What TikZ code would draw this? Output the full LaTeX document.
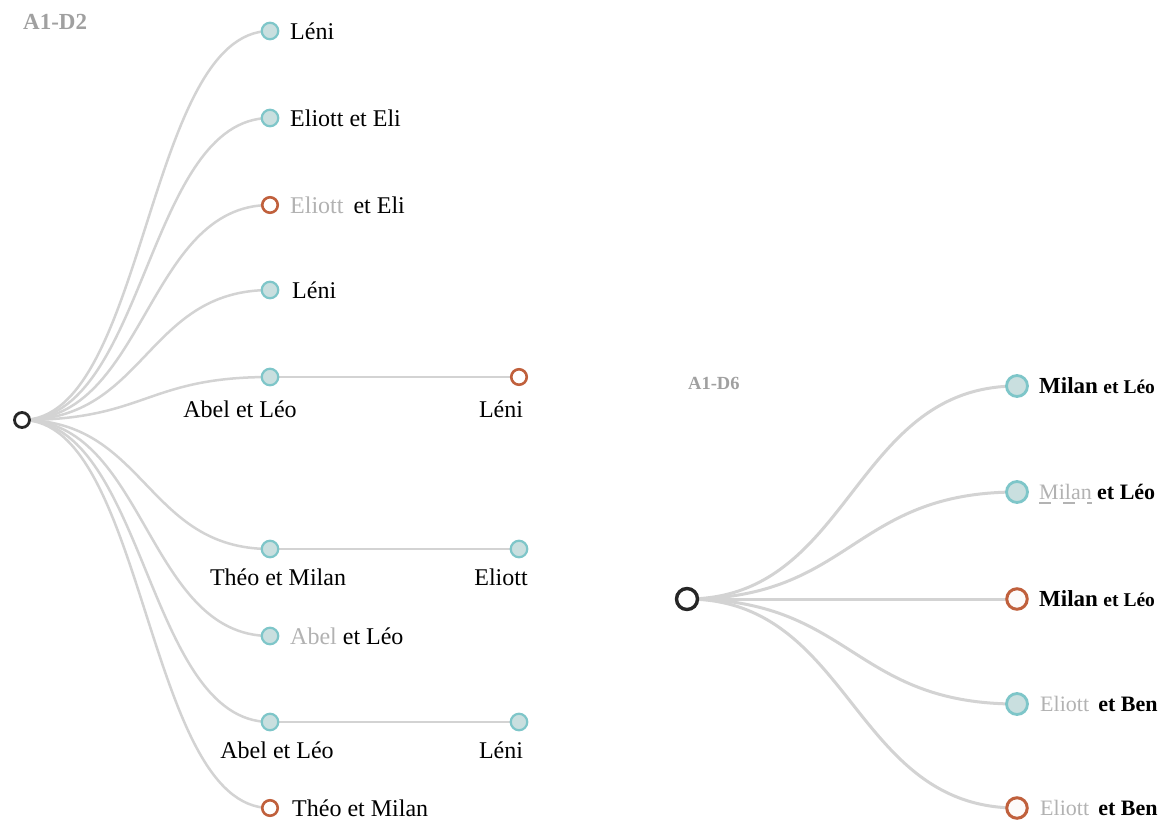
\documentclass[tikz,border=0pt]{standalone}
\usepackage{fontspec}
\setmainfont{Liberation Serif}
\usetikzlibrary{calc,backgrounds}
\definecolor{tealS}{HTML}{7EC6C9}
\definecolor{tealF}{HTML}{C9DFDF}
\definecolor{orangeS}{HTML}{C0603C}
\definecolor{edgeC}{HTML}{D3D3D3}
\definecolor{fadeT}{HTML}{B2B2B2}
\definecolor{titleC}{HTML}{A0A0A0}
\newcommand\treeedge[3][]{\draw[edge,#1] let \p1=(#2.center), \p2=(#3.center) in (\p1) .. controls ({0.5*\x1+0.5*\x2},\y1) and ({0.5*\x1+0.5*\x2},\y2) .. (\p2);}
\begin{document}
\begin{tikzpicture}[x=1pt,y=-1pt,
  leafL/.style={circle, draw=tealS, fill=tealF, line width=2.2pt, minimum size=16.5pt, inner sep=0pt},
  ringL/.style={circle, draw=orangeS, fill=white, line width=2.6pt, minimum size=15.5pt, inner sep=0pt},
  rootL/.style={circle, draw=black!85, fill=white, line width=2.8pt, minimum size=15pt, inner sep=0pt},
  leafR/.style={circle, draw=tealS, fill=tealF, line width=2.8pt, minimum size=21pt, inner sep=0pt},
  ringR/.style={circle, draw=orangeS, fill=white!97!orangeS, line width=3pt, minimum size=20.5pt, inner sep=0pt},
  rootR/.style={circle, draw=black!85, fill=white, line width=3.4pt, minimum size=21pt, inner sep=0pt},
  edge/.style={draw=edgeC, line width=2.5pt},
  edgeR/.style={draw=edgeC, line width=3pt},
  lblL/.style={inner sep=0pt, font=\fontsize{24}{28}\selectfont},
  lblR/.style={inner sep=0pt, font=\fontsize{22}{26}\selectfont},
  title/.style={inner sep=0pt, text=titleC, font=\bfseries\fontsize{23}{26}\selectfont},
  titleS/.style={inner sep=0pt, text=titleC, font=\bfseries\fontsize{18.5}{21}\selectfont}
]
% ---------- left tree ----------
\node[rootL] (r) at (22,420) {};
\node[leafL] (c1) at (270,31) {};
\node[leafL] (c2) at (270,118) {};
\node[ringL] (c3) at (270,205) {};
\node[leafL] (c4) at (270,290) {};
\node[leafL] (c5) at (270,377) {};
\node[leafL] (c6) at (270,549) {};
\node[leafL] (c7) at (270,636) {};
\node[leafL] (c8) at (270,722) {};
\node[ringL] (c9) at (270,808) {};
\node[ringL] (g5) at (519,377) {};
\node[leafL] (g6) at (519,549) {};
\node[leafL] (g8) at (519,722) {};

\node[title, anchor=base west] (tA) at (23,29) {A1-D2};

\node[lblL, anchor=base west] (t1) at ([xshift=20pt,yshift=-8pt]c1.center) {Léni};
\node[lblL, anchor=base west] (t2) at ([xshift=20pt,yshift=-8pt]c2.center) {Eliott et Eli};
\node[lblL, anchor=base west] (t3) at ([xshift=20pt,yshift=-8pt]c3.center) {\textcolor{fadeT}{Eliott} \,et Eli};
\node[lblL, anchor=base west] (t4) at ([xshift=22pt,yshift=-8pt]c4.center) {Léni};
\node[lblL, anchor=base] (t5) at ([xshift=-30pt,yshift=-40pt]c5.center) {Abel et Léo};
\node[lblL, anchor=base] (u5) at ([xshift=-18pt,yshift=-40pt]g5.center) {Léni};
\node[lblL, anchor=base] (t6) at ([xshift=8pt,yshift=-36pt]c6.center) {Théo et Milan};
\node[lblL, anchor=base] (u6) at ([xshift=-18pt,yshift=-36pt]g6.center) {Eliott};
\node[lblL, anchor=base west] (t7) at ([xshift=20pt,yshift=-8pt]c7.center) {\textcolor{fadeT}{Abel} et Léo};
\node[lblL, anchor=base] (t8) at ([xshift=7pt,yshift=-36pt]c8.center) {Abel et Léo};
\node[lblL, anchor=base] (u8) at ([xshift=-18pt,yshift=-36pt]g8.center) {Léni};
\node[lblL, anchor=base west] (t9) at ([xshift=22pt,yshift=-8pt]c9.center) {Théo et Milan};

% ---------- right tree ----------
\node[rootR] (R) at (687,599) {};
\node[leafR] (d1) at (1017,386) {};
\node[leafR] (d2) at (1017,492) {};
\node[ringR] (d3) at (1017,599) {};
\node[leafR] (d4) at (1017,704) {};
\node[ringR] (d5) at (1017,808) {};

\node[titleS, anchor=base west] (tB) at (688,389) {A1-D6};

\node[lblR, anchor=base west] (s1) at ([xshift=22pt,yshift=-7pt]d1.center) {{\bfseries\fontsize{23}{26}\selectfont Milan} {\bfseries\fontsize{19.5}{22}\selectfont et Léo}};
\node[lblR, anchor=base west, text=fadeT] (s2a) at ([xshift=22pt,yshift=-7pt]d2.center) {Milan};
\node[lblR, anchor=base west] (s2b) at ([xshift=5pt]s2a.base east) {\textbf{et Léo}};
\node[lblR, anchor=base west] (s3) at ([xshift=22pt,yshift=-7pt]d3.center) {{\bfseries\fontsize{23}{26}\selectfont Milan} {\bfseries\fontsize{19.5}{22}\selectfont et Léo}};
\node[lblR, anchor=base west] (s4) at ([xshift=23pt,yshift=-7pt]d4.center) {\textcolor{fadeT}{Eliott} \,\textbf{et Ben}};
\node[lblR, anchor=base west] (s5) at ([xshift=23pt,yshift=-7pt]d5.center) {\textcolor{fadeT}{Eliott} \,\textbf{et Ben}};

% ---------- connectors ----------
\begin{pgfonlayer}{background}
\fill[white] (0,0) rectangle (1166,823);
\foreach \c in {c1,c2,c3,c4,c5,c6,c7,c8,c9}{\treeedge{r}{\c}}
\draw[edge] (c5) -- (g5);
\draw[edge] (c6) -- (g6);
\draw[edge] (c8) -- (g8);
\foreach \d in {d1,d2,d3,d4,d5}{\treeedge[edgeR]{R}{\d}}
\draw[draw=edgeC!85!black, line width=2pt, dash pattern=on 12pt off 12pt]
  ([yshift=-4pt]s2a.base west) -- ([yshift=-4pt]s2a.base east);
\end{pgfonlayer}
\useasboundingbox (0,0) rectangle (1166,823);
\end{tikzpicture}
\end{document}
